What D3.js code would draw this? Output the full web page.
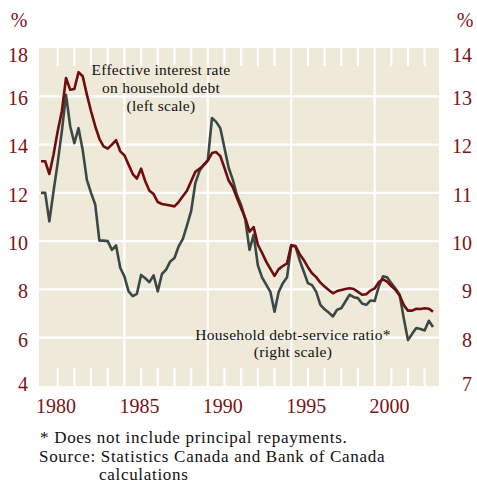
<!DOCTYPE html>
<html>
<head>
<meta charset="utf-8">
<script src="https://cdnjs.cloudflare.com/ajax/libs/d3/7.8.5/d3.min.js"></script>
<style>
  body { margin: 0; background: #fff; }
  svg { display: block; font-family: "Liberation Serif", "Times New Roman", serif; }
</style>
</head>
<body>
<div id="chart"></div>
<script>
// quarterly data, 1980Q1 .. 2003Q3
var years = [1980, 1981, 1982, 1983, 1984, 1985, 1986, 1987, 1988, 1989, 1990, 1991,
             1992, 1993, 1994, 1995, 1996, 1997, 1998, 1999, 2000, 2001, 2002, 2003];

// effective interest rate on household debt (left scale, %)
var interestRate = [
  13.31, 13.31, 12.78, 13.58, 14.55, 15.38, 16.76, 16.27, 16.30, 17.00, 16.83, 16.07,
  15.38, 14.76, 14.24, 13.93, 13.83, 14.00, 14.18, 13.72, 13.56, 13.17, 12.78, 12.59,
  13.00, 12.48, 12.09, 11.95, 11.62, 11.54, 11.51, 11.48, 11.44, 11.62, 11.86, 12.09,
  12.48, 12.87, 13.00, 13.14, 13.33, 13.65, 13.69, 13.52, 13.03, 12.51, 12.23, 11.79,
  11.36, 10.95, 10.39, 10.58, 9.85, 9.52, 9.15, 8.85, 8.56, 8.84, 8.97, 9.08,
  9.84, 9.80, 9.47, 9.22, 8.92, 8.67, 8.51, 8.28, 8.12, 7.98, 7.84, 7.93,
  7.98, 8.02, 8.05, 8.02, 7.90, 7.78, 7.80, 7.95, 8.04, 8.30, 8.42, 8.32,
  8.14, 7.98, 7.75, 7.35, 7.12, 7.12, 7.20, 7.19, 7.22, 7.20, 7.08
];

// household debt-service ratio (right scale, %)
var debtService = [
  11.00, 11.00, 10.41, 11.03, 11.62, 12.28, 13.03, 12.38, 12.03, 12.34, 11.89, 11.27,
  11.00, 10.76, 10.01, 10.01, 10.00, 9.82, 9.91, 9.45, 9.27, 8.96, 8.86, 8.91,
  9.30, 9.23, 9.15, 9.29, 8.96, 9.32, 9.41, 9.58, 9.65, 9.89, 10.04, 10.32,
  10.62, 11.20, 11.45, 11.58, 11.68, 12.55, 12.47, 12.34, 11.93, 11.52, 11.27, 10.95,
  10.75, 10.44, 9.82, 10.13, 9.50, 9.25, 9.10, 8.95, 8.54, 8.95, 9.13, 9.25,
  9.90, 9.89, 9.61, 9.37, 9.13, 9.09, 8.95, 8.68, 8.59, 8.52, 8.44, 8.58,
  8.61, 8.75, 8.89, 8.84, 8.82, 8.71, 8.68, 8.77, 8.76, 9.06, 9.27, 9.25,
  9.13, 9.02, 8.89, 8.40, 7.95, 8.08, 8.20, 8.18, 8.15, 8.35, 8.22
];

var leftTicks = [4, 6, 8, 10, 12, 14, 16, 18];
var rightTicks = [7, 8, 9, 10, 11, 12, 13, 14];
var yearLabels = [1980, 1985, 1990, 1995, 2000];

var quarters = [];
years.forEach(function(y) {
  ["Q1", "Q2", "Q3", "Q4"].forEach(function(q, i) { quarters.push(y + i / 4); });
});
quarters = quarters.slice(0, interestRate.length);

var W = 477, H = 483;
var plot = {left: 39, right: 439, top: 48, bottom: 386};
var red = "#6f0c0e", gray = "#3b4946", bg = "#eee9d8", labelRed = "#7a1416";

var svg = d3.select("#chart").append("svg")
  .attr("width", W)
  .attr("height", H);

var x = d3.scaleLinear().domain([1979.88, 2003.86]).range([plot.left, plot.right]);
var yL = d3.scaleLinear().domain([4, 18]).range([plot.bottom, plot.top]);
var yR = d3.scaleLinear().domain([7, 14]).range([plot.bottom, plot.top]);

svg.append("rect")
  .attr("x", plot.left)
  .attr("y", plot.top)
  .attr("width", plot.right - plot.left)
  .attr("height", plot.bottom - plot.top)
  .attr("fill", bg);

// horizontal grid
svg.selectAll(".hgrid")
  .data(leftTicks.filter(function(d) { return d > 4 && d < 18; }))
  .enter().append("line")
  .attr("x1", plot.left).attr("x2", plot.right)
  .attr("y1", function(d) { return yL(d); })
  .attr("y2", function(d) { return yL(d); })
  .attr("stroke", "#fff")
  .attr("stroke-width", 2.2);

// vertical grid every 5 years
svg.selectAll(".vgrid")
  .data(yearLabels.filter(function(d) { return d > 1980; }))
  .enter().append("line")
  .attr("x1", function(d) { return x(d); })
  .attr("x2", function(d) { return x(d); })
  .attr("y1", plot.top).attr("y2", plot.bottom)
  .attr("stroke", "#fff")
  .attr("stroke-width", 2.2);

// small yearly ticks, top and bottom
var minorYears = years.filter(function(d) { return d % 5 !== 0; });
[plot.top, plot.bottom - 18].forEach(function(y0) {
  svg.append("g").selectAll("line")
    .data(minorYears)
    .enter().append("line")
    .attr("x1", function(d) { return x(d); })
    .attr("x2", function(d) { return x(d); })
    .attr("y1", y0).attr("y2", y0 + 18)
    .attr("stroke", "#fff")
    .attr("stroke-width", 2.2);
});

var lineL = d3.line()
  .x(function(d, i) { return x(quarters[i]); })
  .y(function(d) { return yL(d); });
var lineR = d3.line()
  .x(function(d, i) { return x(quarters[i]); })
  .y(function(d) { return yR(d); });

svg.append("path")
  .datum(debtService)
  .attr("d", lineR)
  .attr("fill", "none")
  .attr("stroke", gray)
  .attr("stroke-width", 2.6)
  .attr("stroke-linejoin", "round");

svg.append("path")
  .datum(interestRate)
  .attr("d", lineL)
  .attr("fill", "none")
  .attr("stroke", red)
  .attr("stroke-width", 2.6)
  .attr("stroke-linejoin", "round");

// axis labels
function labelY(y) { return Math.max(55, Math.min(384, y + 2)); }

svg.selectAll(".lt")
  .data(leftTicks)
  .enter().append("text")
  .attr("x", 28)
  .attr("y", function(d) { return labelY(yL(d)); })
  .attr("dy", "0.34em")
  .attr("text-anchor", "end")
  .attr("fill", labelRed)
  .attr("font-size", 20)
  .text(function(d) { return d; });

svg.selectAll(".rt")
  .data(rightTicks)
  .enter().append("text")
  .attr("x", 472)
  .attr("y", function(d) { return labelY(yR(d)); })
  .attr("dy", "0.34em")
  .attr("text-anchor", "end")
  .attr("fill", labelRed)
  .attr("font-size", 20)
  .text(function(d) { return d; });

svg.append("text").attr("x", 19).attr("y", 27).attr("text-anchor", "middle")
  .attr("fill", labelRed).attr("font-size", 20).text("%");
svg.append("text").attr("x", 465).attr("y", 27).attr("text-anchor", "middle")
  .attr("fill", labelRed).attr("font-size", 20).text("%");

svg.selectAll(".xt")
  .data(yearLabels)
  .enter().append("text")
  .attr("x", function(d) { return x(d) + 15; })
  .attr("y", 413)
  .attr("text-anchor", "middle")
  .attr("fill", labelRed)
  .attr("font-size", 20)
  .text(function(d) { return d; });

// series annotations
var ann1 = svg.append("text")
  .attr("text-anchor", "middle")
  .attr("font-size", 15.5)
  .attr("letter-spacing", 0.25)
  .attr("fill", "#111");
["Effective interest rate", "on household debt", "(left scale)"].forEach(function(t, i) {
  ann1.append("tspan").attr("x", 161).attr("y", 75 + i * 18).text(t);
});

var ann2 = svg.append("text")
  .attr("text-anchor", "middle")
  .attr("font-size", 15.5)
  .attr("letter-spacing", 0.3)
  .attr("fill", "#111");
["Household debt-service ratio*", "(right scale)"].forEach(function(t, i) {
  ann2.append("tspan").attr("x", 293).attr("y", 340 + i * 17).text(t);
});

// footnotes
var foot = svg.append("g").attr("font-size", 17).attr("letter-spacing", 0.7).attr("fill", "#111");
foot.append("text").attr("x", 40).attr("y", 443).text("* Does not include principal repayments.");
foot.append("text").attr("x", 39).attr("y", 462).text("Source: Statistics Canada and Bank of Canada");
foot.append("text").attr("x", 99).attr("y", 480).text("calculations");
</script>
</body>
</html>
